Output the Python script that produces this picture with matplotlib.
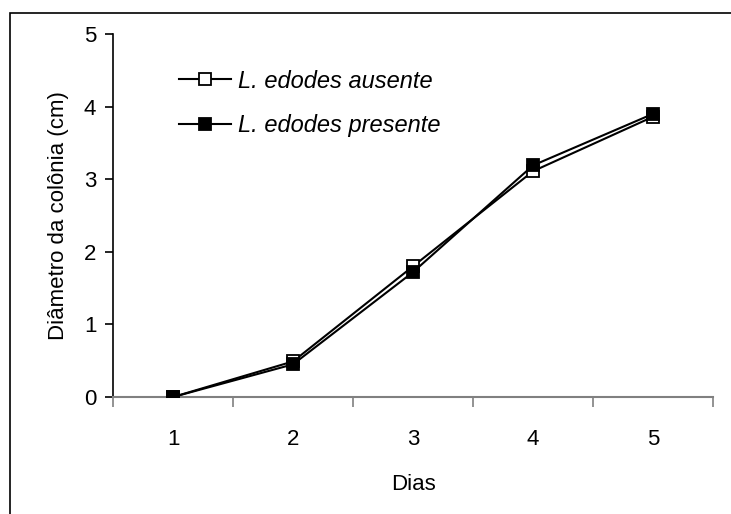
import numpy as np
import matplotlib.pyplot as plt
from matplotlib.patches import Rectangle

plt.rcParams['font.family'] = ['Liberation Sans', 'DejaVu Sans']

dias = [1, 2, 3, 4, 5]
ausente = [0.0, 0.49, 1.80, 3.11, 3.86]
ausente_err = [0.0, 0.04, 0.05, 0.06, 0.04]
presente = [0.0, 0.45, 1.72, 3.19, 3.90]
presente_err = [0.0, 0.04, 0.06, 0.05, 0.04]

fig = plt.figure(figsize=(7.31, 5.14), dpi=100)
ax = fig.add_axes([0.1546, 0.2276, 0.8208, 0.7063])

# moldura externa
fig.patches.append(Rectangle((10 / 731, -0.1), 1.2, 1 - 13 / 514 + 0.1,
                             transform=fig.transFigure, fill=False,
                             edgecolor='black', linewidth=1.2))

eb1 = ax.errorbar(dias, ausente, yerr=ausente_err, color='black', lw=1.5,
                  marker='s', ms=9, mfc='white', mec='black', mew=1.3,
                  capsize=4, elinewidth=1.3, capthick=1.3, zorder=3)
eb2 = ax.errorbar(dias, presente, yerr=presente_err, color='black', lw=1.5,
                  marker='s', ms=9, mfc='black', mec='black', mew=1.3,
                  capsize=4, elinewidth=1.3, capthick=1.3, zorder=4)

ax.set_xlim(0.5, 5.5)
ax.set_ylim(0, 5)
ax.set_yticks([0, 1, 2, 3, 4, 5])
ax.set_xticks(dias)
ax.set_xticks(np.arange(0.5, 6, 1), minor=True)
ax.tick_params(axis='x', which='major', length=0, labelsize=16, pad=23)
ax.tick_params(axis='x', which='minor', length=7, width=1.2, color='#808080',
               direction='out')
ax.tick_params(axis='y', length=6, width=1.2, labelsize=16, pad=6)

for s in ['top', 'right']:
    ax.spines[s].set_visible(False)
ax.spines['bottom'].set_color('#808080')
ax.spines['bottom'].set_linewidth(1.5)
ax.spines['left'].set_linewidth(1.2)

ax.set_xlabel('Dias', fontsize=16, labelpad=17)
ax.set_ylabel('Diâmetro da colônia (cm)', fontsize=16, labelpad=11)

leg = ax.legend(handles=[eb1[0], eb2[0]],
                labels=['L. edodes ausente', 'L. edodes presente'],
                loc='upper left', bbox_to_anchor=(0.075, 0.96), frameon=False,
                fontsize=17, handlelength=2.2, handletextpad=0.3,
                labelspacing=0.9)
for t in leg.get_texts():
    t.set_fontstyle('italic')

fig.savefig('out.png', dpi=100)
